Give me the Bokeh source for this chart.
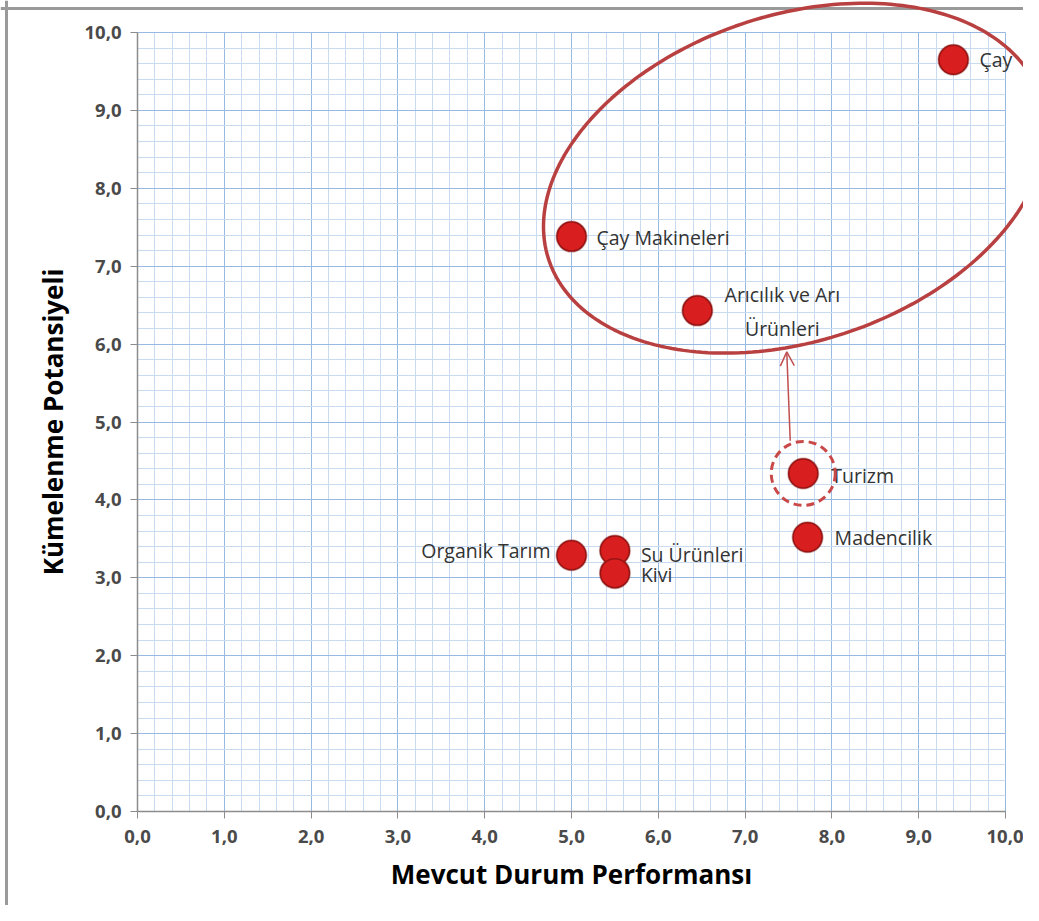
import numpy as np
from bokeh.plotting import figure
from bokeh.models import (ColumnDataSource, Range1d, FixedTicker, PolyAnnotation,
                          Arrow, OpenHead, LinearAxis, Grid, Span)
from bokeh.core.properties import value, field
from bokeh.embed import file_html
from bokeh.resources import INLINE

# ---- data ----
names = ["Çay", "Çay Makineleri", "Arıcılık ve Arı\nÜrünleri", "Turizm",
         "Madencilik", "Organik Tarım", "Su Ürünleri", "Kivi"]
perf = [9.40, 5.0, 6.45, 7.67, 7.72, 5.0, 5.5, 5.5]          # Mevcut Durum Performansı
potential = [9.65, 7.38, 6.43, 4.34, 3.52, 3.29, 3.35, 3.06]  # Kümelenme Potansiyeli

ticks = [0, 1, 2, 3, 4, 5, 6, 7, 8, 9, 10]
tick_labels = ["0,0", "1,0", "2,0", "3,0", "4,0", "5,0", "6,0", "7,0", "8,0", "9,0", "10,0"]

x_title = "Mevcut Durum Performansı"
y_title = "Kümelenme Potansiyeli"

# ---- layout / style ----
label_dx = [26, 25, 85, 28, 27, -21, 26, 26]
label_dy = [0, 1, 1, 2, 0, -5, 4, 1]
label_align = ["left", "left", "center", "left", "left", "right", "left", "left"]

W, H = 1023, 905                 # canvas
LEFT, TOP, PW, PH = 137, 32, 868, 779   # plotting box (0..10 x 0..10) in pixels
px_x = PW / 10.0
px_y = PH / 10.0
FONT = "Open Sans"
RED = "#b94040"

x0 = -LEFT / px_x
x1 = (W - LEFT) / px_x
y1 = 10 + TOP / px_y
y0 = -(H - TOP - PH) / px_y

p = figure(output_backend="svg", toolbar_location=None,
           width=W, height=H, min_border=0,
           x_axis_location=None, y_axis_location=None,
           x_range=Range1d(x0, x1), y_range=Range1d(y0, y1))
p.outline_line_color = None
p.background_fill_color = "white"
p.border_fill_color = "white"
p.xgrid.visible = False
p.ygrid.visible = False

minor = [round(i * 0.2, 1) for i in range(51)]

# grids restricted to the 0..10 box
gb = (-0.001, 10.001)
grid_ok = True
for dim in (0, 1):
    g = Grid(dimension=dim, ticker=FixedTicker(ticks=ticks, minor_ticks=minor),
             grid_line_color="#98b9e2", grid_line_width=1,
             minor_grid_line_color="#c8dbf0", minor_grid_line_width=1,
             bounds=gb)
    try:
        g.cross_bounds = (0, 10)
    except Exception:
        grid_ok = False
    p.add_layout(g)

if not grid_ok:
    for r in list(p.center):
        if isinstance(r, Grid):
            p.center.remove(r)
    mt = [m for m in minor if m not in ticks]
    p.segment(x0=mt, y0=0, x1=mt, y1=10, line_color="#c8dbf0", line_width=1)
    p.segment(x0=0, y0=mt, x1=10, y1=mt, line_color="#c8dbf0", line_width=1)
    p.segment(x0=ticks, y0=0, x1=ticks, y1=10, line_color="#98b9e2", line_width=1)
    p.segment(x0=0, y0=ticks, x1=10, y1=ticks, line_color="#98b9e2", line_width=1)

xa = LinearAxis(fixed_location=0, bounds=(0, 10), axis_label=x_title)
ya = LinearAxis(fixed_location=0, bounds=(0, 10), axis_label=y_title)
for ax in (xa, ya):
    ax.ticker = FixedTicker(ticks=ticks, minor_ticks=[])
    ax.major_label_overrides = dict(zip(ticks, tick_labels))
    ax.axis_line_color = "#8c8c8c"
    ax.axis_line_width = 1.5
    ax.major_tick_line_color = "#8c8c8c"
    ax.major_tick_in = 0
    ax.major_tick_out = 7
    ax.minor_tick_line_color = None
    ax.major_label_text_font = FONT
    ax.major_label_text_font_size = "18.5px"
    ax.major_label_text_font_style = "bold"
    ax.major_label_text_color = "#4a4a4a"
    ax.axis_label_text_font = FONT
    ax.axis_label_text_font_size = "26px"
    ax.axis_label_text_font_style = "bold"
    ax.axis_label_text_color = "#000000"
xa.major_label_standoff = 11
xa.axis_label_standoff = 10
ya.major_label_standoff = 9
ya.axis_label_standoff = 10
p.add_layout(xa, "below")
p.add_layout(ya, "left")

# outer frame of the figure (thin gray double border at left and top)
p.add_layout(Span(location=-131 / px_x, dimension="height", line_color="#9a9a9a", line_width=3))
p.add_layout(Span(location=10 + 24 / px_y, dimension="width", line_color="#9a9a9a", line_width=3))

src = ColumnDataSource(dict(x=perf, y=potential, name=names,
                            dx=label_dx, dy=label_dy, align=label_align))

# markers (shadow + ball)
p.scatter("x", "y", source=src, size=32, fill_color="#6a0c0c", fill_alpha=0.35,
          line_color=None)
p.scatter("x", "y", source=src, size=29, fill_color="#d81e1e",
          line_color="#9a1414", line_width=1.5)

p.text("x", "y", text="name", source=src, x_offset="dx", y_offset="dy",
       text_align=field("align"), text_baseline="middle",
       text_font=value(FONT), text_font_size="19.5px", text_color="#333333",
       text_line_height=1.25)

# dashed circle around Turizm
ti = names.index("Turizm")
p.scatter([perf[ti]], [potential[ti]], size=64, fill_color=None,
          line_color="#c94848", line_width=3, line_dash="8 5")

# arrow from Turizm circle toward the ellipse
p.add_layout(Arrow(end=OpenHead(size=14, line_color="#c05050", line_width=1.5),
                   x_start=perf[ti] - 0.15, y_start=potential[ti] + 0.42,
                   x_end=perf[ti] - 0.19, y_end=potential[ti] + 1.56,
                   line_color="#c05050", line_width=1.5))

# cluster ellipse (annotation, axes given in screen pixels)
cx, cy = 7.57, 8.13
a_px, b_px, ang = 259, 163, np.deg2rad(18.4)
t = np.linspace(0, 2 * np.pi, 240)
dx = a_px * np.cos(t) * np.cos(ang) - b_px * np.sin(t) * np.sin(ang)
dy = a_px * np.cos(t) * np.sin(ang) + b_px * np.sin(t) * np.cos(ang)
p.add_layout(PolyAnnotation(xs=list(cx + dx / px_x), ys=list(cy + dy / px_y),
                            fill_color=None, fill_alpha=0, line_color=RED,
                            line_alpha=1.0, line_width=3.5))

open("out.html", "w").write(file_html(p, INLINE))
